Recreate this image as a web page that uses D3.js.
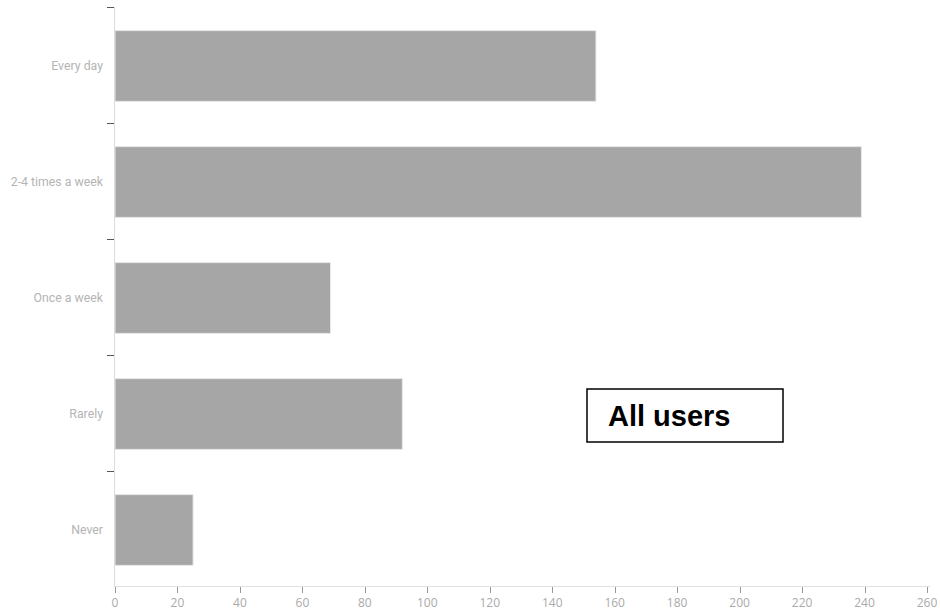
<!DOCTYPE html>
<html><head><meta charset="utf-8">
<script src="https://cdn.jsdelivr.net/npm/d3@7"></script>
<style>body{margin:0;background:#fff}svg{display:block}</style>
</head><body>
<svg id="c" width="940" height="614"></svg>
<script>
const categories = ["Every day","2-4 times a week","Once a week","Rarely","Never"];
const values = [154, 239, 69, 92, 25];
const xTicks = [0,20,40,60,80,100,120,140,160,180,200,220,240,260];
const legendLabel = "All users";

(function(){
const svg = d3.select("#c");
const mLeft = 115, mRight = 927, mTop = 7, mBottom = 587;
const x = d3.scaleLinear().domain([0,260]).range([mLeft,mRight]);
const y = d3.scaleBand().domain(categories).range([mTop+1,mBottom+1]).paddingInner(0.39).paddingOuter(0.195);

// bars
svg.append("g").selectAll("rect").data(values).join("rect")
  .attr("x", x(0)).attr("y",(d,i)=>y(categories[i]))
  .attr("width", d=>x(d)-x(0)).attr("height", y.bandwidth())
  .attr("fill","#a6a6a6").attr("stroke","#e8e8e8").attr("stroke-width",1);

// y axis line
svg.append("line").attr("x1",mLeft-0.5).attr("x2",mLeft-0.5).attr("y1",mTop).attr("y2",mBottom)
  .attr("stroke","#dcdcdc").attr("stroke-width",1);
// x axis line
svg.append("line").attr("x1",mLeft-0.5).attr("x2",mRight+3).attr("y1",mBottom-0.5).attr("y2",mBottom-0.5)
  .attr("stroke","#e0e0e0").attr("stroke-width",1);

// y ticks at band boundaries
const step = y.step();
const bounds = categories.map(c => y(c) - y.paddingInner()*step/2);
svg.append("g").selectAll("line").data(bounds).join("line")
  .attr("x1",mLeft-8).attr("x2",mLeft-1).attr("y1",d=>Math.round(d)-0.5).attr("y2",d=>Math.round(d)-0.5)
  .attr("stroke","#555").attr("stroke-width",1);

// y labels
svg.append("g").selectAll("text").data(categories).join("text")
  .attr("x",103).attr("y",d=>y(d)+y.bandwidth()/2).attr("dy","0.35em")
  .attr("text-anchor","end").attr("fill","#b4b4b4")
  .style("font-family","'Roboto',sans-serif").style("font-size","12.3px")
  .text(d=>d);

// x ticks
const xg = svg.append("g");
xg.selectAll("line").data(xTicks).join("line")
  .attr("x1",d=>Math.round(x(d))+0.5).attr("x2",d=>Math.round(x(d))+0.5)
  .attr("y1",mBottom).attr("y2",mBottom+6).attr("stroke","#999");
xg.selectAll("text").data(xTicks).join("text")
  .attr("x",d=>x(d)).attr("y",603).attr("dy","0.35em").attr("text-anchor","middle")
  .attr("fill","#aaaaaa").style("font-family","'Open Sans',sans-serif").style("font-size","12px")
  .text(d=>d);

// legend box
svg.append("rect").attr("x",587).attr("y",389).attr("width",196).attr("height",53)
  .attr("fill","#fff").attr("stroke","#000").attr("stroke-width",1.5);
svg.append("text").attr("x",608).attr("y",426).text(legendLabel)
  .style("font-family","'Liberation Sans',Arial,sans-serif").style("font-weight","bold").style("font-size","29px")
  .attr("fill","#000");
})();
</script>
</body></html>
